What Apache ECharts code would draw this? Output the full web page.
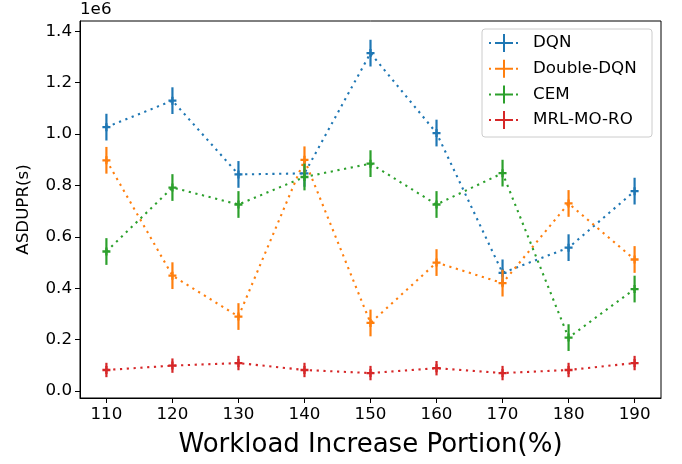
<!DOCTYPE html>
<html>
<head>
<meta charset="utf-8">
<script src="https://cdn.jsdelivr.net/npm/echarts@6/dist/echarts.min.js"></script>
<style>html,body{margin:0;padding:0;background:#fff;}#c{width:682px;height:464px;}</style>
</head>
<body>
<div id="c"></div>
<script>
// Data (values in units of 1e6)
const xValues = [110, 120, 130, 140, 150, 160, 170, 180, 190];
const seriesNames = ['DQN', 'Double-DQN', 'CEM', 'MRL-MO-RO'];
const dqn = [1.027, 1.13, 0.843, 0.847, 1.315, 1.004, 0.46, 0.558, 0.778];
const dqnErr = [0.052, 0.052, 0.052, 0.052, 0.052, 0.052, 0.052, 0.052, 0.052];
const doubleDqn = [0.898, 0.449, 0.29, 0.9, 0.265, 0.50, 0.42, 0.73, 0.512];
const doubleDqnErr = [0.052, 0.052, 0.052, 0.052, 0.052, 0.052, 0.052, 0.052, 0.052];
const cem = [0.543, 0.792, 0.726, 0.833, 0.885, 0.726, 0.848, 0.208, 0.397];
const cemErr = [0.052, 0.052, 0.052, 0.052, 0.052, 0.052, 0.052, 0.052, 0.052];
const mrl = [0.082, 0.099, 0.109, 0.082, 0.07, 0.089, 0.07, 0.082, 0.109];
const mrlErr = [0.028, 0.028, 0.028, 0.028, 0.028, 0.028, 0.028, 0.028, 0.028];
const xTicks = [110, 120, 130, 140, 150, 160, 170, 180, 190];
const yTicks = [0.0, 0.2, 0.4, 0.6, 0.8, 1.0, 1.2, 1.4];

const colors = ['#1f77b4', '#ff7f0e', '#2ca02c', '#d62728'];
const allVals = [dqn, doubleDqn, cem, mrl];
const allErrs = [dqnErr, doubleDqnErr, cemErr, mrlErr];
const FONT = 'DejaVu Sans';

const plusSymbol = 'path://M0,2.5h7v2h-7z M2.5,0h2v7h-2z';
const legendIcon = 'path://M0,8h2v2h-2z M6,8h18v2h-18z M14,0h2v18h-2z M27,8h2v2h-2z';

const series = [];
seriesNames.forEach((name, i) => {
  series.push({
    name: name,
    type: 'line',
    z: 10 + i * 2,
    data: xValues.map((x, k) => [x, allVals[i][k]]),
    symbol: plusSymbol,
    symbolSize: 8,
    showAllSymbol: true,
    itemStyle: { color: colors[i] },
    lineStyle: { color: colors[i], width: 2.1, type: [2.2, 4.6], cap: 'butt' },
    emphasis: { disabled: true },
    animation: false
  });
  series.push({
    name: name + ' err',
    type: 'custom',
    z: 11 + i * 2,
    data: xValues.map((x, k) => [x, allVals[i][k], allErrs[i][k]]),
    encode: { x: 0, y: 1 },
    renderItem: function (params, api) {
      const x = api.value(0), y = api.value(1), e = api.value(2);
      const p1 = api.coord([x, y - e]);
      const p2 = api.coord([x, y + e]);
      return {
        type: 'line',
        shape: { x1: p1[0], y1: p1[1], x2: p2[0], y2: p2[1] },
        style: { stroke: colors[i], lineWidth: 2.2 }
      };
    },
    animation: false
  });
});

const chart = echarts.init(document.getElementById('c'), null, { renderer: 'canvas' });
chart.setOption({
  animation: false,
  grid: { left: 80, right: 21, top: 21, bottom: 66, show: true, borderColor: '#000', borderWidth: 1, backgroundColor: 'transparent' },
  xAxis: {
    type: 'value', min: 106, max: 194,
    name: 'Workload Increase Portion(%)', nameLocation: 'middle', nameGap: 34,
    nameTextStyle: { fontFamily: FONT, fontSize: 26, color: '#000' },
    axisLine: { show: true, onZero: false, lineStyle: { color: '#000', width: 1 } },
    axisTick: { show: true, length: 5, customValues: xTicks, lineStyle: { color: '#000', width: 1 } },
    axisLabel: { customValues: xTicks, fontFamily: FONT, fontSize: 16.7, color: '#000', margin: 8 },
    splitLine: { show: false }
  },
  yAxis: {
    type: 'value', min: -0.027, max: 1.44,
    name: 'ASDUPR(s)', nameLocation: 'middle', nameGap: 48, nameRotate: 90,
    nameTextStyle: { fontFamily: FONT, fontSize: 16.7, color: '#000' },
    axisLine: { show: true, onZero: false, lineStyle: { color: '#000', width: 1 } },
    axisTick: { show: true, length: 5, customValues: yTicks, lineStyle: { color: '#000', width: 1 } },
    axisLabel: { customValues: yTicks, fontFamily: FONT, fontSize: 16.7, color: '#000', margin: 8,
      formatter: v => v.toFixed(1) },
    splitLine: { show: false }
  },
  legend: {
    orient: 'vertical', left: 489, top: 34, padding: 0,
    itemWidth: 29, itemHeight: 18, itemGap: 7.7, z: 30,
    data: seriesNames.map((n, i) => ({ name: n, icon: legendIcon, itemStyle: { color: colors[i] } })),
    textStyle: { fontFamily: FONT, fontSize: 16.7, color: '#000', padding: [0, 0, 0, 10] },
    selectedMode: false
  },
  graphic: [
    { type: 'rect', z: 25, shape: { x: 482, y: 29, width: 170, height: 108, r: 3 },
      style: { fill: 'rgba(255,255,255,0.8)', stroke: '#cccccc', lineWidth: 1 } },
    { type: 'text', z: 25, left: 80, top: 1,
      style: { text: '1e6', font: '16.7px "DejaVu Sans"', fill: '#000' } }
  ],
  series: series
});
</script>
</body>
</html>
